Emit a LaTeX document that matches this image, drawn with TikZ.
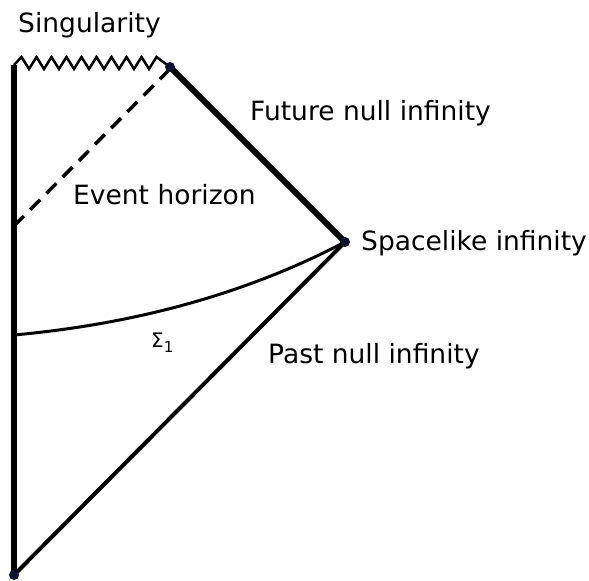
\documentclass[tikz,border=0pt]{standalone}
\usepackage{fontspec}
\setmainfont{DejaVu Sans}
\definecolor{dotc}{RGB}{16,16,48}
\begin{document}
\begin{tikzpicture}[x=1bp,y=-1bp,
  lbl/.style={anchor=base west,inner sep=0pt,font=\fontsize{26.5bp}{30bp}\selectfont},
  pt/.style={circle,fill=dotc,inner sep=0pt,minimum size=10bp},
  thickline/.style={line width=6bp},
  medline/.style={line width=4bp}]
\useasboundingbox (0,0) rectangle (589,581);
% key points
\coordinate (tl) at (14,65);
\coordinate (sing) at (170,67);
\coordinate (spi) at (345,242);
\coordinate (bot) at (14,575);
\coordinate (eh) at (14,226);
\coordinate (ehend) at (168,71);
\coordinate (sig) at (14,335);
% boundaries
\draw[thickline] (tl) -- (bot);
\draw[thickline] (sing) -- (spi);
\draw[medline] (spi) -- (bot);
% singularity zigzag
\draw[line width=2.5bp,line join=miter] (tl)
  \foreach \k in {0,...,8} { -- ({21.5+15*\k},57) -- ({29+15*\k},69) }
  -- (156.5,57) -- (sing);
% event horizon
\draw[line width=3.5bp,dash pattern=on 14bp off 9bp] (eh) -- (ehend);
% Cauchy surface
\draw[line width=3bp] (sig) .. controls (138,323.7) and (248.3,292.7) .. (spi);
% dots
\node[pt] (psing) at (sing) {};
\node[pt] (pspi) at (spi) {};
\node[pt] (pbot) at (bot) {};
% labels
\node[lbl] (lsing) at (18,33) {Singularity};
\node[lbl] (lfut) at (250,121) {Future null infinity};
\node[lbl] (leh) at (73,204) {Event horizon};
\node[lbl] (lspi) at (361,250) {Spacelike infinity};
\node[lbl] (lpast) at (268,363) {Past null infinity};
\node[anchor=base west,inner sep=0pt,font=\fontsize{20bp}{22bp}\selectfont] (lsig) at (151,347) {Σ\raisebox{-5bp}{\fontsize{15bp}{17bp}\selectfont 1}};
\end{tikzpicture}
\end{document}
